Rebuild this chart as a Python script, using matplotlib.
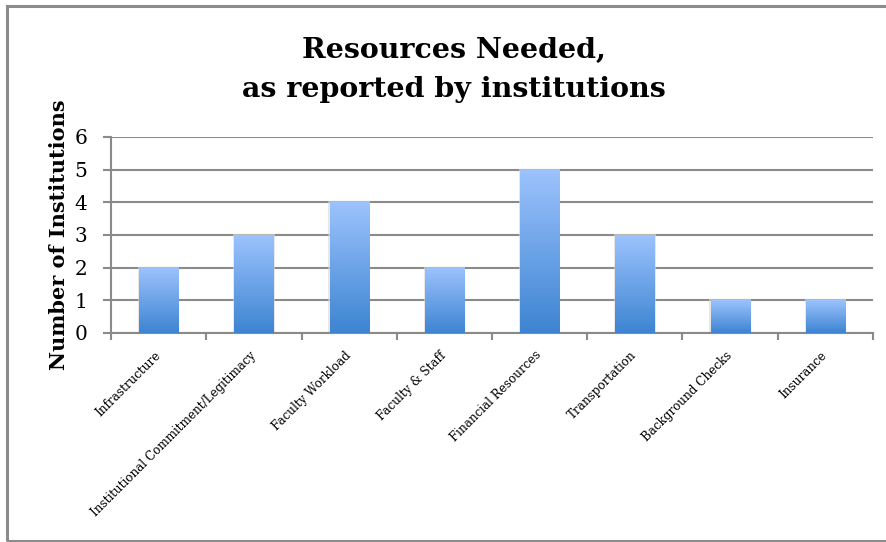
import matplotlib.pyplot as plt
from matplotlib.patches import Rectangle
from matplotlib.colors import LinearSegmentedColormap
import numpy as np

categories = ['Infrastructure', 'Institutional Commitment/Legitimacy', 'Faculty Workload',
              'Faculty & Staff', 'Financial Resources', 'Transportation',
              'Background Checks', 'Insurance']
counts = [2, 3, 4, 2, 5, 3, 1, 1]

serif = ['DejaVu Serif']

fig = plt.figure(figsize=(8.87, 5.42), dpi=100)
ax = fig.add_axes([111 / 887, 1 - 333 / 542, (873 - 111) / 887, (333 - 137) / 542])

# outer chart border
fig.patches.append(Rectangle((7 / 887, 1 - 541 / 542), 1.0, 535 / 542, transform=fig.transFigure,
                             fill=False, edgecolor='#8c8c8c', linewidth=2.2, zorder=0))

x = np.arange(len(categories))
bars = ax.bar(x, counts, width=0.41, color='none', edgecolor='none', zorder=3)

cmap = LinearSegmentedColormap.from_list('blu', ['#3d84d2', '#9cc3fd'])
grad = np.linspace(0, 1, 256).reshape(-1, 1)
for b in bars:
    x0, w, h = b.get_x(), b.get_width(), b.get_height()
    # soft shadow
    ax.add_patch(Rectangle((x0 - 0.012, 0), w + 0.024, h + 0.03, facecolor='#d8d8d8',
                           edgecolor='none', alpha=0.6, zorder=2))
    im = ax.imshow(grad, cmap=cmap, origin='lower', aspect='auto',
                   extent=(x0, x0 + w, 0, h), zorder=3)
    im.set_clip_path(b)

ax.set_xlim(-0.5, len(categories) - 0.5)
ax.set_ylim(0, 6)
ax.set_yticks(range(0, 7))
ax.yaxis.grid(True, color='#8a8a8a', linewidth=1.5, zorder=1)
ax.set_axisbelow(True)

for s in ['top', 'right']:
    ax.spines[s].set_visible(False)
for s in ['left', 'bottom']:
    ax.spines[s].set_color('#8a8a8a')
    ax.spines[s].set_linewidth(1.5)

ax.set_xticks(np.arange(-0.5, len(categories)), minor=False)
ax.set_xticklabels([])
ax.tick_params(axis='x', length=5, width=1.5, color='#8a8a8a', direction='out')
ax.tick_params(axis='y', length=6, width=1.5, color='#8a8a8a', direction='out',
               labelsize=14.5, pad=11)
for lab in ax.get_yticklabels():
    lab.set_fontfamily(serif)

for i, c in enumerate(categories):
    ax.text(i - 0.05, -0.48, c, rotation=45, ha='right', va='top', rotation_mode='anchor',
            fontsize=8.6, family=serif)

ax.set_ylabel('Number of Institutions', fontsize=15, fontweight='bold', family=serif, labelpad=4)

fig.text(454 / 887, 1 - 70 / 542, 'Resources Needed,\nas reported by institutions', ha='center',
         va='center', fontsize=20.5, fontweight='bold', family=serif, linespacing=1.6)

fig.savefig('out.png', dpi=100)
